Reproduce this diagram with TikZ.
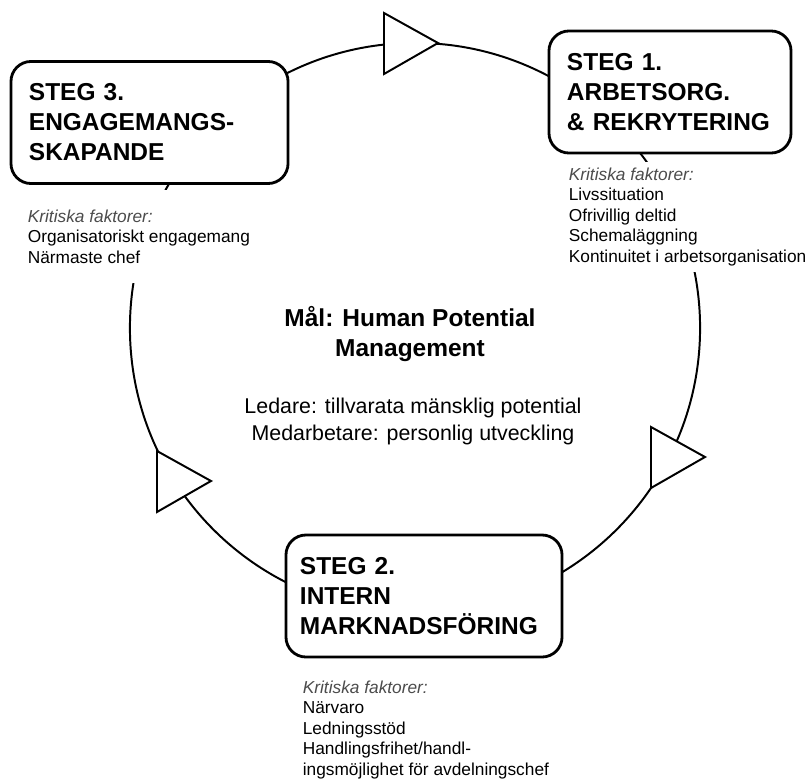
\documentclass[tikz,border=0pt]{standalone}
\usepackage{fontspec}
\setmainfont{Liberation Sans}
\usepackage{tikz}
\usetikzlibrary{positioning}

\newcommand{\stegfont}{\fontsize{17.4}{21.3}\selectfont\bfseries}
\newcommand{\malfont}{\fontsize{17.4}{21.3}\selectfont\bfseries}
\newcommand{\rollfont}{\fontsize{15.2}{19.2}\selectfont}
\newcommand{\faktorfont}{\fontsize{12.3}{14.6}\selectfont}
\newcommand{\kritiska}{\textit{\color{black!70}Kritiska faktorer:}}

\tikzset{
    stepbox/.style={draw, line width=2pt, rounded corners=0.5cm, fill=white, align=left, inner xsep=0.45cm, minimum height=3.05cm, font=\stegfont},
    factors/.style={fill=white, align=left, inner sep=0.1cm, font=\faktorfont},
    flowtri/.style={draw, line width=1.4pt, fill=white, line join=miter}
}

\begin{document}
\begin{tikzpicture}[x=0.025cm, y=-0.025cm]
        \useasboundingbox (0,0) rectangle (806,781);

        % Points
        \coordinate (centre) at (415,328);
        \coordinate (tiptop) at (438,43);
        \coordinate (tipleft) at (211,481);
        \coordinate (tipright) at (705,457);

        % Cycle
        \draw[line width=1.4pt] (centre) circle[radius=7.125cm];
        \foreach \tip in {tiptop, tipleft, tipright}
            \draw[flowtri] (\tip) -- ++(-54,-30) -- ++(0,61) -- cycle;

        % Steps
        \node[stepbox, text width=6.025cm] (steg3) at (149.5,122.5) {STEG 3.\\ENGAGEMANGS-\\SKAPANDE};
        \node[stepbox, text width=5.15cm] (steg1) at (670,92) {STEG 1.\\ARBETSORG.\\\& REKRYTERING};
        \node[stepbox, inner xsep=0.35cm, text width=6.2cm] (steg2) at (424,596) {STEG 2.\\INTERN\\MARKNADSFÖRING};

        % Factors
        \node[factors, minimum height=2.325cm, below right=0.125cm and 0.35cm of steg3.south west] (faktor3)
            {\kritiska\\Organisatoriskt engagemang\\Närmaste chef};
        \node[factors, minimum height=2.75cm, below right=0.175cm and 0.425cm of steg1.south west] (faktor1)
            {\kritiska\\Livssituation\\Ofrivillig deltid\\Schemaläggning\\Kontinuitet i arbetsorganisation};
        \node[factors, below right=0.45cm and 0.35cm of steg2.south west] (faktor2)
            {\kritiska\\Närvaro\\Ledningsstöd\\Handlingsfrihet/handl-\\ingsmöjlighet för avdelningschef};

        % Goal
        \node[font=\malfont, align=center] (mal) at (410,334) {Mål: Human Potential\\Management};
        \node[font=\rollfont, align=center] (roller) at (413,421) {Ledare: tillvarata mänsklig potential\\Medarbetare: personlig utveckling};

\end{tikzpicture}
\end{document}
